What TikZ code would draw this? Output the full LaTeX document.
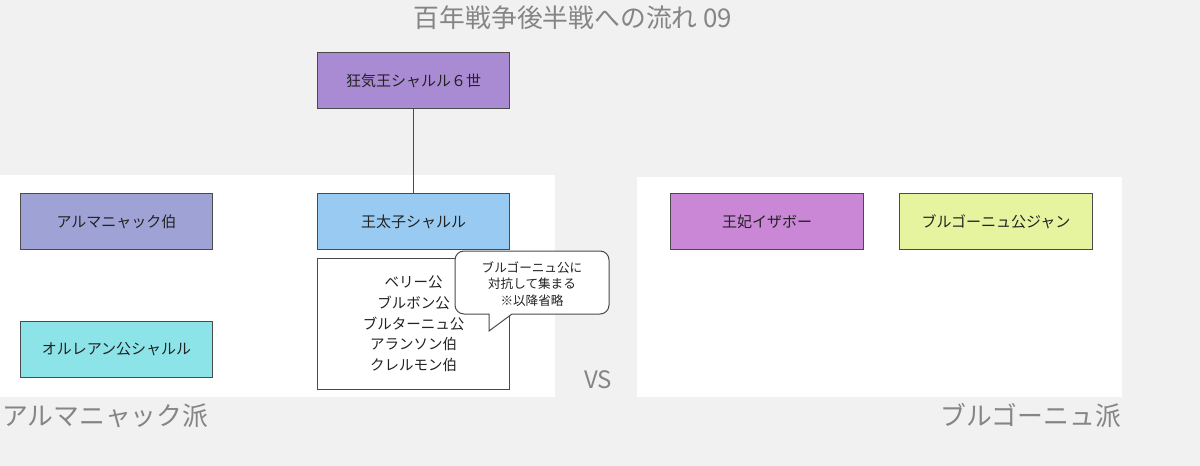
\documentclass[tikz,border=0pt]{standalone}
\usepackage{fontspec}
\setmainfont{Noto Sans CJK JP}
\definecolor{bgc}{HTML}{F1F1F1}
\definecolor{edgec}{HTML}{4A4A4A}
\definecolor{txtc}{HTML}{222222}
\definecolor{grayt}{HTML}{858585}
\definecolor{cking}{HTML}{A98BD3}
\definecolor{cdau}{HTML}{99CBF2}
\definecolor{carm}{HTML}{9EA2D5}
\definecolor{corl}{HTML}{8DE4E8}
\definecolor{cisa}{HTML}{C987D6}
\definecolor{cjean}{HTML}{E6F39F}
\begin{document}
\begin{tikzpicture}[x=1pt,y=-1pt,
  box/.style={draw=edgec, line width=1pt, minimum width=192pt, minimum height=56pt, anchor=north west, inner sep=0pt, text=txtc, font=\fontsize{15}{18}\selectfont},
  bigtxt/.style={text=grayt, inner sep=0pt, font=\fontsize{25.8}{30}\selectfont},
  calltxt/.style={align=center, text=txtc, inner sep=0pt, font=\fontsize{12.6}{16.5}\selectfont}]
\useasboundingbox[fill=bgc] (0,0) rectangle (1200,466);
% panels
\fill[white] (0,175) rectangle (555,397);
\fill[white] (637,177) rectangle (1122,397);
% title
\node[bigtxt] (title) at (573,18) {百年戦争後半戦への流れ 09};
% boxes
\node[box, fill=cking] (king) at (317,52) {狂気王シャルル６世};
\node[box, fill=cdau] (dau) at (317,193) {王太子シャルル};
\node[box, fill=carm] (arm) at (20,193) {アルマニャック伯};
\node[box, fill=corl] (orl) at (20,321) {オルレアン公シャルル};
\node[box, fill=cisa, minimum width=193pt] (isa) at (670,193) {王妃イザボー};
\node[box, fill=cjean, minimum width=193pt] (jean) at (899,193) {ブルゴーニュ公ジャン};
\node[box, fill=white, minimum height=131pt, align=center, font=\fontsize{14.5}{20.7}\selectfont] (lords) at (317,258) {ベリー公\\ブルボン公\\ブルターニュ公\\アランソン伯\\クレルモン伯};
\draw[edgec, line width=1pt] (king.south) -- (dau.north);
% callout
\draw[edgec, line width=1pt, fill=white] (489,314) -- (489,331) -- (512,314) [rounded corners=9pt] -- (609,314) -- (609,251) -- (455,251) -- (455,314) [sharp corners] -- cycle;
\node[calltxt] (note) at (532,284) {ブルゴーニュ公に\\対抗して集まる\\※以降省略};
% labels
\node[text=grayt, inner sep=0pt, font=\fontsize{24}{28}\selectfont] (vs) at (598,380) {VS};
\node[bigtxt, anchor=west] (armp) at (2,416) {アルマニャック派};
\node[bigtxt, anchor=east] (burp) at (1121,416) {ブルゴーニュ派};
\end{tikzpicture}
\end{document}
